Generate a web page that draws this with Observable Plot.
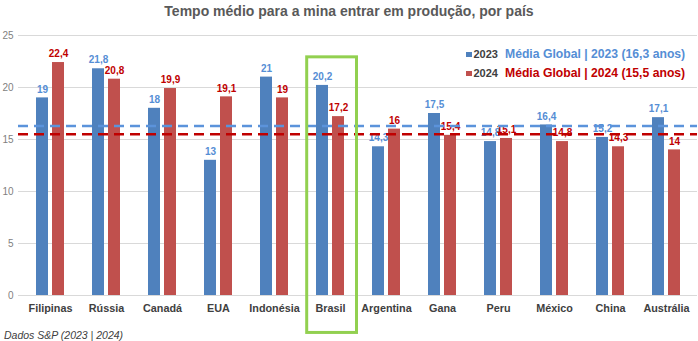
<!DOCTYPE html>
<html>
<head>
<meta charset="utf-8">
<script src="https://cdn.jsdelivr.net/npm/d3@7"></script>
<script src="https://cdn.jsdelivr.net/npm/@observablehq/plot@0.6"></script>
<style>
  body { margin: 0; background: #fff; }
  #wrap { position: relative; width: 698px; height: 341px; overflow: hidden;
          font-family: "Liberation Sans", Arial, sans-serif; }
  #title { height: 28px; line-height: 22px; text-align: center; font-weight: bold; font-size: 14px; color: #595959; }
  #caption { height: 17px; font-style: italic; font-size: 10.5px; color: #404040; padding-left: 4px; line-height: 22px; }
  #legend { position: absolute; left: 466px; top: 44px; font-weight: bold; line-height: 17.3px; }
  #legend .row { white-space: nowrap; }
  #legend .sq { display: inline-block; width: 5.5px; height: 5.5px; margin-right: 2px; vertical-align: 1px; }
  #legend .yr { color: #404040; font-size: 11px; margin-right: 7px; }
  #legend .lbl { font-size: 12.2px; }
  svg.plot { overflow: visible; }
</style>
</head>
<body>
<div id="wrap">
  <div id="title">Tempo médio para a mina entrar em produção, por país</div>
  <div id="chart"></div>
  <div id="caption"></div>
  <div id="legend"></div>
</div>
<script>
const countries = ["Filipinas","Rússia","Canadá","EUA","Indonésia","Brasil","Argentina","Gana","Peru","México","China","Austrália"];
const values2023 = [19, 21.8, 18, 13, 21, 20.2, 14.3, 17.5, 14.8, 16.4, 15.2, 17.1];
const values2024 = [22.4, 20.8, 19.9, 19.1, 19, 17.2, 16, 15.4, 15.1, 14.8, 14.3, 14];
const years = ["2023", "2024"];
const globalAvg = [16.3, 15.5];
const legendLabels = ["Média Global | 2023 (16,3 anos)", "Média Global | 2024 (15,5 anos)"];
const yTicks = [0, 5, 10, 15, 20, 25];
const highlight = ["Brasil"];
const highlightSpan = [-3.6, 22.9];
const captionText = "Dados S&P (2023 | 2024)";

const barColors = ["#4F81BD", "#C0504D"];
const labelColors = ["#558ED5", "#C00000"];
const avgColors = ["#5B93DB", "#C00000"];

const fmt = v => String(v).replace(".", ",");
const d23 = countries.map((c, i) => ({country: c, value: values2023[i]}));
const d24 = countries.map((c, i) => ({country: c, value: values2024[i]}));

const plot = Plot.plot({
  width: 698,
  height: 296,
  marginTop: 7,
  marginBottom: 29,
  marginLeft: 21,
  marginRight: 3,
  style: {fontFamily: '"Liberation Sans", Arial, sans-serif', background: "transparent", overflow: "visible"},
  x: {type: "band", domain: countries, padding: 0, axis: null},
  y: {domain: [0, 25], axis: null},
  marks: [
    Plot.ruleY(yTicks, {stroke: "#d9d9d9", strokeWidth: 1, insetLeft: -3, insetRight: -2}),
    Plot.text(yTicks, {y: d => d, frameAnchor: "left", lineAnchor: "middle", dx: -8, textAnchor: "end", fill: "#7f7f7f", fontSize: 10}),
    Plot.text(countries, {x: d => d, frameAnchor: "bottom", lineAnchor: "middle", dy: 13, fill: "#404040", fontSize: 10.8, fontWeight: "bold"}),
    Plot.barY(d23, {x: "country", y: "value", fill: barColors[0], insetLeft: 14, insetRight: 30}),
    Plot.barY(d24, {x: "country", y: "value", fill: barColors[1], insetLeft: 30, insetRight: 14}),
    Plot.text(d23, {x: "country", y: "value", text: d => fmt(d.value), dx: -8, dy: -8.5, fill: labelColors[0], fontSize: 10, fontWeight: "bold"}),
    Plot.text(d24, {x: "country", y: "value", text: d => fmt(d.value), dx: 8, dy: -8.5, fill: labelColors[1], fontSize: 10, fontWeight: "bold"}),
    Plot.ruleY([globalAvg[0]], {stroke: avgColors[0], strokeWidth: 2.5, strokeDasharray: "10,6", insetLeft: -3, insetRight: -2}),
    Plot.ruleY([globalAvg[1]], {stroke: avgColors[1], strokeWidth: 2.5, strokeDasharray: "10,6", insetLeft: -3, insetRight: -2}),
    Plot.rect(highlight, {x: d => d, y1: highlightSpan[0], y2: highlightSpan[1], fill: "none", stroke: "#92D050", strokeWidth: 3, insetLeft: 4.7, insetRight: 1.5})
  ]
});
document.getElementById("chart").appendChild(plot);

const legend = document.getElementById("legend");
years.forEach((y, i) => {
  const row = document.createElement("div");
  row.className = "row";
  row.innerHTML = `<span class="sq" style="background:${barColors[i]}"></span><span class="yr">${y}</span><span class="lbl" style="color:${labelColors[i]}">${legendLabels[i]}</span>`;
  legend.appendChild(row);
});
document.getElementById("caption").textContent = captionText;
</script>
</body>
</html>
